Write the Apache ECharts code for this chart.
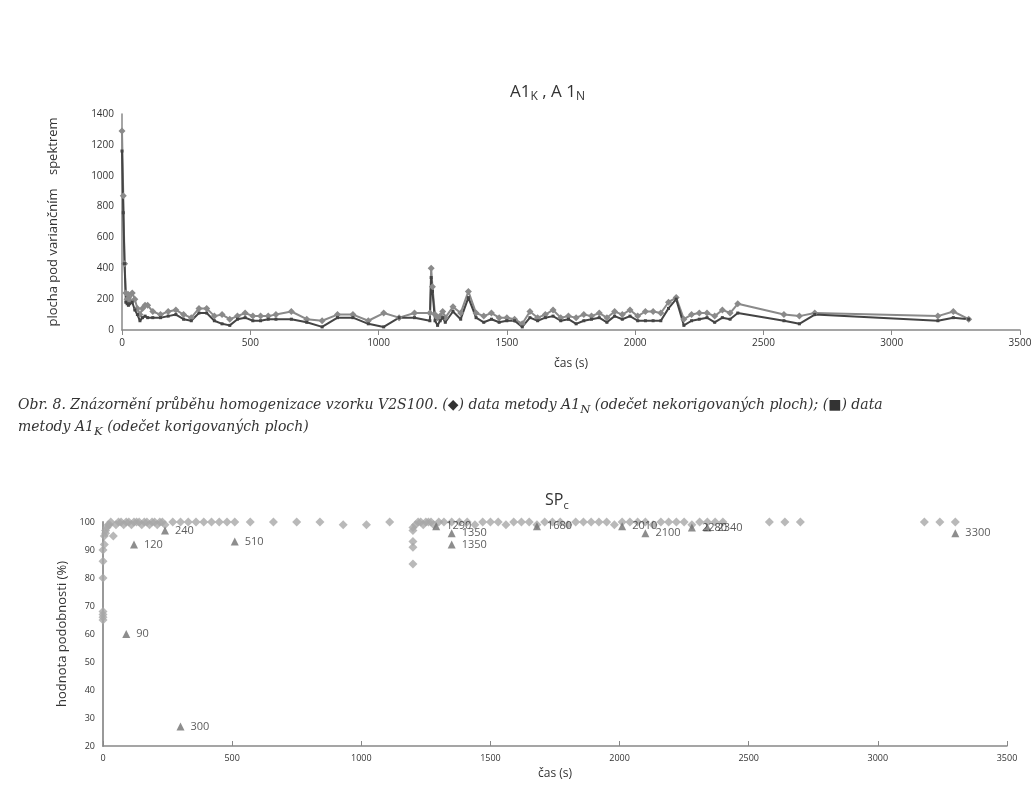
<!DOCTYPE html>
<html>
<head>
<meta charset="utf-8">
<style>
  html, body { margin: 0; padding: 0; background: #fff; }
  #main { width: 1036px; height: 800px; }
  #caption { position: absolute; left: 18px; top: 396px; width: 915px;
    font-family: "DejaVu Serif", serif; font-style: italic; font-size: 14px; color: #333; line-height: 17px; }
</style>
</head>
<body>
<div id="main"></div>
<div id="caption">Obr. 8. Znázornění průběhu homogenizace vzorku V2S100. (◆) data metody A1<sub>N</sub> (odečet nekorigovaných ploch); (■) data metody A1<sub>K</sub> (odečet korigovaných ploch)</div>
<script src="https://cdn.jsdelivr.net/npm/echarts@6/dist/echarts.min.js"></script>
<script>
var times1 = [0,5,10,15,20,25,30,40,50,60,
  70,80,90,100,120,150,180,210,240,270,
  300,330,360,390,420,450,480,510,540,570,
  600,660,720,780,840,900,960,1020,1080,1140,
  1200,1205,1210,1220,1230,1240,1250,1260,1290,1320,
  1350,1380,1410,1440,1470,1500,1530,1560,1590,1620,
  1650,1680,1710,1740,1770,1800,1830,1860,1890,1920,
  1950,1980,2010,2040,2070,2100,2130,2160,2190,2220,
  2250,2280,2310,2340,2370,2400,2580,2640,2700,3180,
  3240,3300];
var valN = [1290,870,430,240,200,230,190,240,200,140,
  100,140,160,160,120,100,120,130,100,80,
  140,140,90,100,70,90,110,90,90,90,
  100,120,70,60,100,100,60,110,80,110,
  110,400,280,100,80,90,120,80,150,110,
  250,110,90,110,80,80,70,40,120,80,
  100,130,80,90,80,100,90,110,80,120,
  100,130,90,120,120,110,180,210,70,100,
  110,110,90,130,110,170,100,90,110,90,
  120,70];
var valK = [1160,760,430,180,170,160,170,180,130,100,
  60,80,90,80,80,80,90,100,70,60,
  110,110,60,40,30,70,80,60,60,70,
  70,70,50,20,80,80,40,20,80,80,
  60,340,250,60,30,60,80,50,120,70,
  210,80,50,70,50,60,60,20,80,60,
  80,90,60,70,40,60,70,80,50,90,
  70,90,60,60,60,60,140,200,30,60,
  70,80,50,80,70,110,60,40,100,60,
  80,70];

var times2 = [0,0,0,0,0,0,0,5,5,10,10,15,20,25,30,40,50,60,70,80,
  90,100,110,120,130,140,150,160,170,180,190,200,210,220,230,240,270,300,330,360,
  390,420,450,480,510,570,660,750,840,930,1020,1110,1200,1200,1200,1200,1200,1210,1220,1230,
  1240,1250,1260,1270,1280,1300,1320,1350,1380,1410,1440,1470,1500,1530,1560,1590,1620,1650,1680,1710,
  1740,1770,1800,1830,1860,1890,1920,1950,1980,2010,2040,2070,2100,2130,2160,2190,2220,2250,2280,2310,
  2340,2370,2400,2580,2640,2700,3180,3240,3300];
var spVal = [65,66,67,68,80,86,90,92,95,96,97,98,99,99,100,95,99,100,100,99,
  100,100,99,100,100,100,99,100,100,99,100,100,99,100,100,99,100,100,100,100,
  100,100,100,100,100,100,100,100,100,99,99,100,85,91,93,97,98,99,100,100,
  99,100,100,100,99,100,100,100,100,100,99,100,100,100,99,100,100,100,99,100,
  100,100,99,100,100,100,100,100,99,100,100,100,100,99,100,100,100,100,99,100,
  100,100,100,100,100,100,100,100,100];

var triX = [90,120,240,300,510,1290,1350,1350,1680,2010,2100,2280,2340,3300];
var triY = [60,92,97,27,93,98.5,96,92,98.5,98.5,96,98,98,96];

function pairs(xs, ys) { return xs.map(function (x, i) { return [x, ys[i]]; }); }
function plain(v) { return String(v); }

var axisLine = { lineStyle: { color: '#888', width: 1.5 } };
var lbl = { color: '#333', fontSize: 10, fontFamily: 'Open Sans', formatter: plain };
var lbl2 = { color: '#333', fontSize: 9, fontFamily: 'Open Sans', formatter: plain };

var chart = echarts.init(document.getElementById('main'));
chart.setOption({
  animation: false,
  title: [{
    text: '{a|A1}{s|K}{a| , A 1}{s|N}', left: 505, top: 76,
    textStyle: { rich: { a: { fontSize: 17, color: '#333', fontFamily: 'Open Sans', fontWeight: 'normal' },
      s: { fontSize: 12, color: '#333', fontFamily: 'Open Sans', fontWeight: 'normal', padding: [10, 0, 0, 0] } } }
  }, {
    text: '{a|SP}{s|c}', left: 540, top: 485,
    textStyle: { rich: { a: { fontSize: 16, color: '#333', fontFamily: 'Open Sans', fontWeight: 'normal' },
      s: { fontSize: 11, color: '#333', fontFamily: 'Open Sans', fontWeight: 'normal', padding: [10, 0, 0, 0] } } }
  }],
  grid: [
    { left: 122, top: 114, width: 898, height: 216 },
    { left: 103, top: 522, width: 904, height: 224 }
  ],
  xAxis: [{
    gridIndex: 0, type: 'value', min: 0, max: 3500, interval: 500,
    name: 'čas (s)', nameLocation: 'middle', nameGap: 28,
    nameTextStyle: { color: '#333', fontSize: 12, fontFamily: 'Open Sans' },
    axisLine: axisLine, axisTick: { show: true, lineStyle: { color: '#888' } },
    splitLine: { show: false }, axisLabel: lbl
  }, {
    gridIndex: 1, type: 'value', min: 0, max: 3500, interval: 500,
    name: 'čas (s)', nameLocation: 'middle', nameGap: 22,
    nameTextStyle: { color: '#333', fontSize: 12, fontFamily: 'Open Sans' },
    axisLine: axisLine, axisTick: { show: true, inside: true, lineStyle: { color: '#888' } },
    splitLine: { show: false }, axisLabel: lbl2
  }],
  yAxis: [{
    gridIndex: 0, type: 'value', min: 0, max: 1400, interval: 200,
    name: 'plocha pod variančním    spektrem', nameLocation: 'middle', nameGap: 62,
    nameTextStyle: { color: '#333', fontSize: 13, fontFamily: 'Open Sans' },
    axisLine: { show: true, lineStyle: { color: '#888', width: 1.5 } }, axisTick: { show: false },
    splitLine: { show: false }, axisLabel: lbl
  }, {
    gridIndex: 1, type: 'value', min: 20, max: 100, interval: 10,
    name: 'hodnota podobnosti (%)', nameLocation: 'middle', nameGap: 28,
    nameTextStyle: { color: '#333', fontSize: 13, fontFamily: 'Open Sans' },
    axisLine: { show: true, lineStyle: { color: '#999', width: 2 } }, axisTick: { show: false },
    splitLine: { show: false }, axisLabel: lbl2
  }],
  series: [{
    name: 'A1N', type: 'line', xAxisIndex: 0, yAxisIndex: 0,
    data: pairs(times1, valN), symbol: 'diamond', symbolSize: 7,
    itemStyle: { color: '#8a8a8a' }, lineStyle: { color: '#8a8a8a', width: 2 }
  }, {
    name: 'A1K', type: 'line', xAxisIndex: 0, yAxisIndex: 0,
    data: pairs(times1, valK), symbol: 'rect', symbolSize: 3,
    itemStyle: { color: '#444' }, lineStyle: { color: '#444', width: 2 }
  }, {
    name: 'SP', type: 'scatter', xAxisIndex: 1, yAxisIndex: 1,
    data: pairs(times2, spVal), symbol: 'diamond', symbolSize: 9,
    itemStyle: { color: '#a8a8a8' }
  }, {
    name: 'tri', type: 'scatter', xAxisIndex: 1, yAxisIndex: 1,
    data: pairs(triX, triY), symbol: 'triangle', symbolSize: 8,
    itemStyle: { color: '#707070' },
    label: { show: true, position: 'right', distance: 6, color: '#333', fontSize: 11, fontFamily: 'Open Sans',
      formatter: function (p) { return p.value[0]; } }
  }]
});
</script>
</body>
</html>
